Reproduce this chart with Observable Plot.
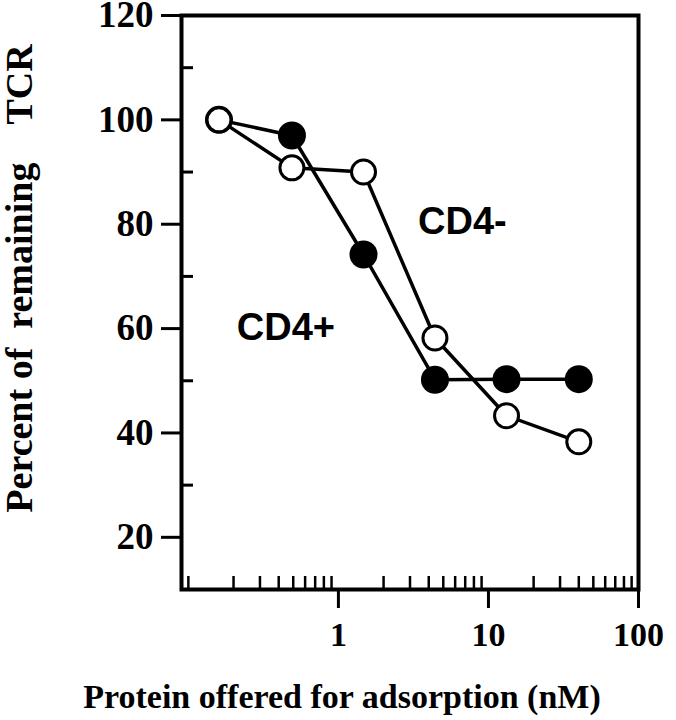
<!DOCTYPE html>
<html>
<head>
<meta charset="utf-8">
<script src="https://cdn.jsdelivr.net/npm/d3@7"></script>
<script src="https://cdn.jsdelivr.net/npm/@observablehq/plot@0.6"></script>
<style>
  html, body { margin: 0; padding: 0; background: #fff; }
</style>
</head>
<body>
<div id="chart"></div>
<script>
// Protein offered for adsorption (nM)
const doseNM = [0.16, 0.49, 1.47, 4.4, 13.2, 40];
// Percent of remaining TCR
const cd4Pos = [100, 97.0, 74.2, 50.2, 50.3, 50.3];   // filled circles
const cd4Neg = [100, 90.8, 90.0, 58.2, 43.3, 38.3];   // open circles

const seriesLabels = ["CD4-", "CD4+"];
const seriesLabelX = [6.7, 0.447];
const seriesLabelY = [80.5, 60.2];

const yMajorTicks = [20, 40, 60, 80, 100, 120];
const yMinorTicks = [30, 50, 70, 90, 110];
const xMajorTicks = [1, 10, 100];
const xMinorTicks = [0.1, 0.2, 0.3, 0.4, 0.5, 0.6, 0.7, 0.8, 0.9,
                     2, 3, 4, 5, 6, 7, 8, 9,
                     20, 30, 40, 50, 60, 70, 80, 90];

const xTitle = "Protein offered for adsorption (nM)";
const yTitle = "Percent\u00A0of\u00A0\u00A0remaining\u00A0\u00A0\u00A0\u00A0TCR";

const posData = doseNM.map((d, i) => ({x: d, y: cd4Pos[i]}));
const negData = doseNM.map((d, i) => ({x: d, y: cd4Neg[i]}));
const labelData = seriesLabels.map((t, i) => ({text: t, x: seriesLabelX[i], y: seriesLabelY[i]}));

const serif = "'Liberation Serif', 'Times New Roman', serif";
const sans = "'Liberation Sans', Arial, sans-serif";

const chart = Plot.plot({
  width: 676,
  height: 720,
  marginLeft: 181,
  marginRight: 38,
  marginTop: 15,
  marginBottom: 131,
  style: {fontFamily: serif, fontWeight: "bold", background: "#fff", color: "#000", overflow: "visible"},
  x: {type: "log", domain: [0.09, 100]},
  y: {domain: [10, 120]},
  marks: [
    Plot.axisY(yMajorTicks, {tickSize: 20, tickPadding: 8, fontSize: 37, strokeWidth: 3, label: null, fontFamily: serif, fontWeight: "bold"}),
    Plot.axisY(yMinorTicks, {tickSize: -12, strokeWidth: 3, tickFormat: () => "", label: null}),
    Plot.axisX(xMajorTicks, {tickSize: 19, tickPadding: 13, fontSize: 34, strokeWidth: 3, tickFormat: d => String(d), label: null, fontFamily: serif, fontWeight: "bold"}),
    Plot.axisX(xMinorTicks, {tickSize: -13, strokeWidth: 2.5, tickFormat: () => "", label: null}),
    Plot.frame({strokeWidth: 4, stroke: "#000"}),
    Plot.line(posData, {x: "x", y: "y", stroke: "#000", strokeWidth: 3.5}),
    Plot.line(negData, {x: "x", y: "y", stroke: "#000", strokeWidth: 3.5}),
    Plot.dot(posData, {x: "x", y: "y", r: 14, fill: "#000", stroke: "none"}),
    Plot.dot(negData, {x: "x", y: "y", r: 12, fill: "#fff", stroke: "#000", strokeWidth: 3}),
    Plot.text(labelData, {x: "x", y: "y", text: "text", fontFamily: sans, fontSize: 38, fontWeight: "bold", fill: "#000"}),
    Plot.text([yTitle], {frameAnchor: "left", textAnchor: "middle", lineAnchor: "middle", rotate: -90, dx: -162, dy: -24, fontSize: 38, fontFamily: serif, fontWeight: "bold", fill: "#000"}),
    Plot.text([xTitle], {frameAnchor: "bottom", textAnchor: "middle", lineAnchor: "middle", dx: -68, dy: 108, fontSize: 34, fontFamily: serif, fontWeight: "bold", fill: "#000"})
  ]
});
document.getElementById("chart").appendChild(chart);
</script>
</body>
</html>
